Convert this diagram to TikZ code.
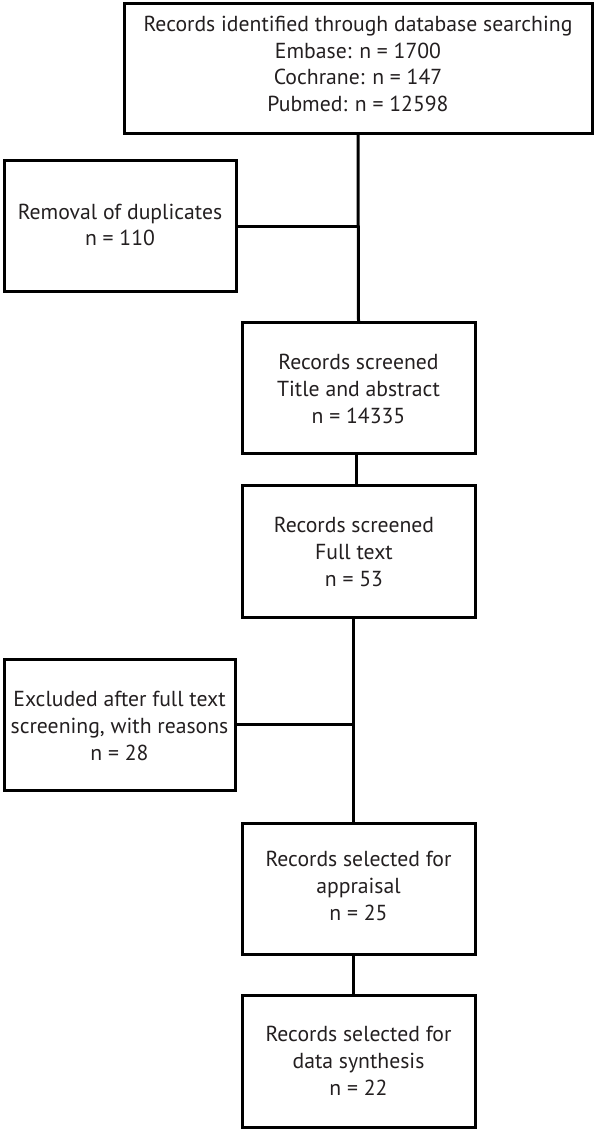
\documentclass[tikz,border=0pt]{standalone}
\usepackage{fontspec}
\setmainfont{PT Sans}
\definecolor{ink}{HTML}{231F20}
\begin{document}
\begin{tikzpicture}[x=1pt,y=-1pt,
  box/.style={draw=black, line width=3pt, inner sep=0pt, outer sep=0pt, rectangle},
  txt/.style={align=center, text=ink, font=\fontsize{21.7}{26.8}\selectfont, inner sep=0pt},
  link/.style={draw=black, line width=3pt}]
\useasboundingbox (0,0) rectangle (596,1131);
\node[box, minimum width=468pt, minimum height=130pt] (b1) at (358,69) {};
\node[txt] (t1) at (358,64) {Records identified through database searching\\Embase: n = 1700\\Cochrane: n = 147\\Pubmed: n = 12598};
\node[box, minimum width=232pt, minimum height=131pt] (b2) at (120,226.5) {};
\node[txt] (t2) at (120,225) {Removal of duplicates\\n = 110};
\node[box, minimum width=233pt, minimum height=131pt] (b3) at (358.5,387.5) {};
\node[txt] (t3) at (358.5,389) {Records screened\\Title and abstract\\n = 14335};
\node[box, minimum width=233pt, minimum height=132pt] (b4) at (358.5,551) {};
\node[txt] (t4) at (354,552) {Records screened\\Full text\\n = 53};
\node[box, minimum width=231pt, minimum height=131pt] (b5) at (119.5,724.5) {};
\node[txt] (t5) at (119.5,726) {Excluded after full text\\screening, with reasons\\n = 28};
\node[box, minimum width=233pt, minimum height=131pt] (b6) at (358.5,888.5) {};
\node[txt] (t6) at (358.5,886) {Records selected for\\appraisal\\n = 25};
\node[box, minimum width=233pt, minimum height=132pt] (b7) at (358.5,1061) {};
\node[txt] (t7) at (358.5,1061) {Records selected for\\data synthesis\\n = 22};
\coordinate (j4) at ([xshift=-5.5pt]b4.south);
\coordinate (j6) at ([xshift=-5.5pt]b6.north);
\coordinate (j6s) at ([xshift=-5.5pt]b6.south);
\coordinate (j7) at ([xshift=-5.5pt]b7.north);
\draw[link] (b1.south) -- (b3.north);
\draw[link] (b2.east) -- (b2.east -| b1.south);
\draw[link] ([xshift=-2pt]b3.south) -- ([xshift=-2pt]b4.north);
\draw[link] (j4) -- (j6);
\draw[link] (b5.east) -- (b5.east -| j4);
\draw[link] (j6s) -- (j7);
\end{tikzpicture}
\end{document}
